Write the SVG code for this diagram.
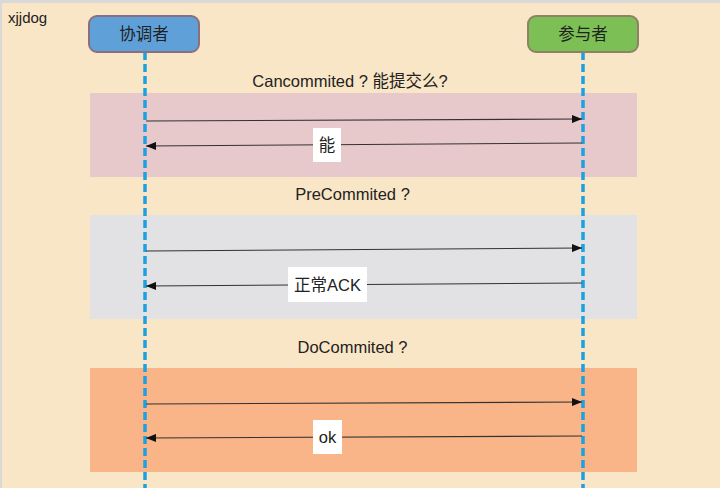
<svg xmlns="http://www.w3.org/2000/svg" width="720" height="488" viewBox="0 0 720 488">
  <defs>
    <marker id="ah" markerWidth="10" markerHeight="8" refX="10" refY="4" orient="auto" markerUnits="userSpaceOnUse">
      <path d="M0,0 L10,4 L0,8 Z" fill="#111"/>
    </marker>
    <style>
      .t { font-family: "Helvetica", "Liberation Sans", "Noto Sans CJK SC", sans-serif; fill: #222; }
      .life { stroke: #1BA1E2; stroke-width: 3.5; stroke-dasharray: 8 4; fill: none; }
      .msg { stroke: #333; stroke-width: 1.2; fill: none; marker-end: url(#ah); }
      .lbl { fill: #fff; }
    </style>
  </defs>
  <rect x="0" y="0" width="720" height="488" fill="#d9d9d9"/>
  <rect x="2" y="3" width="718" height="485" fill="#F9E6C6"/>
  <text class="t" x="8" y="23" font-size="15">xjjdog</text>

  <g id="bands">
    <rect x="90" y="93" width="547" height="84" fill="#E8C9CB"/>
    <rect x="90" y="215" width="547" height="104" fill="#E2E1E3"/>
    <rect x="90" y="368" width="547" height="104" fill="#F9B488"/>
  </g>

  <g id="titles">
    <text class="t" x="350" y="87" font-size="16.5" text-anchor="middle">Cancommited ? 能提交么?</text>
    <text class="t" x="352.5" y="200" font-size="16.5" text-anchor="middle">PreCommited ?</text>
    <text class="t" x="352.5" y="353" font-size="16.5" text-anchor="middle">DoCommited ?</text>
  </g>

  <g id="lifelines">
    <line class="life" x1="145" y1="52" x2="145" y2="488"/>
    <line class="life" x1="583" y1="52" x2="583" y2="488"/>
  </g>

  <g id="node-coordinator">
    <rect x="89" y="16" width="110" height="36" rx="8" fill="#5FA0D9" stroke="#8B6F80" stroke-width="2"/>
    <text class="t" x="144" y="40" font-size="16.5" text-anchor="middle">协调者</text>
  </g>
  <g id="node-participant">
    <rect x="528" y="16" width="110" height="36" rx="8" fill="#7CBF55" stroke="#8F8068" stroke-width="2"/>
    <text class="t" x="583" y="40" font-size="16.5" text-anchor="middle">参与者</text>
  </g>

  <g id="connectors">
    <line class="msg" x1="146" y1="121" x2="582" y2="119"/>
    <line class="msg" x1="582" y1="143" x2="146" y2="146"/>
    <line class="msg" x1="146" y1="251" x2="582" y2="248"/>
    <line class="msg" x1="582" y1="283" x2="146" y2="286"/>
    <line class="msg" x1="146" y1="404" x2="582" y2="402"/>
    <line class="msg" x1="582" y1="436" x2="146" y2="438"/>
  </g>

  <g id="labels">
    <rect class="lbl" x="313" y="128" width="28" height="34"/>
    <text class="t" x="327" y="151" font-size="16.5" text-anchor="middle">能</text>
    <rect class="lbl" x="288" y="267" width="79" height="35"/>
    <text class="t" x="327.5" y="291" font-size="16.5" text-anchor="middle">正常ACK</text>
    <rect class="lbl" x="313" y="420" width="29" height="34"/>
    <text class="t" x="327.5" y="443" font-size="16.5" text-anchor="middle">ok</text>
  </g>
</svg>
